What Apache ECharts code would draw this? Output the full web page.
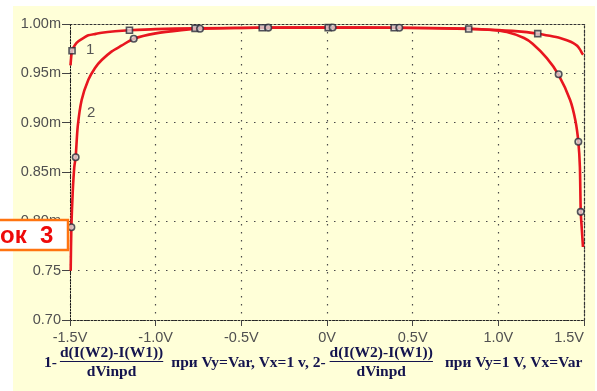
<!DOCTYPE html>
<html><head><meta charset="utf-8">
<script src="https://cdn.jsdelivr.net/npm/echarts@6/dist/echarts.min.js"></script>
<style>html,body{margin:0;padding:0;background:#fff}#c{width:597px;height:391px}</style>
</head><body><div id="c"></div>
<script>
// ---- data ----
const xTickLabels = ["-1.5V","-1.0V","-0.5V","0V","0.5V","1.0V","1.5V"];
const yTickLabels = ["0.70","0.75","0.80m","0.85m","0.90m","0.95m","1.00m"];

// curve 1: Vy = Var, Vx = 1 V
const curve1V = [-1.497,-1.488,-1.47,-1.451,-1.42,-1.393,-1.35,-1.315,-1.237,-1.153,-1.0,-0.77,-0.4,0.0,0.4,0.827,1.0,1.15,1.23,1.30,1.36,1.40,1.438,1.46,1.477,1.488,1.495];
const curve1G = [0.958,0.9729,0.979,0.9825,0.986,0.9885,0.990,0.9912,0.9926,0.9936,0.9948,0.9956,0.9962,0.9964,0.9962,0.995,0.9938,0.992,0.9902,0.988,0.9858,0.9835,0.9807,0.978,0.974,0.9705,0.969];
const marks1V = [-1.488,-1.153,-0.770,-0.378,0.007,0.392,0.827,1.230];
const marks1G = [0.9729,0.9936,0.9956,0.9962,0.9963,0.9962,0.995,0.9902];

// curve 2: Vy = 1 V, Vx = Var
const curve2V = [-1.496,-1.492,-1.484,-1.475,-1.467,-1.455,-1.432,-1.393,-1.354,-1.315,-1.256,-1.2,-1.128,-1.0,-0.85,-0.741,-0.5,-0.343,0.033,0.422,0.8,0.95,1.05,1.15,1.2,1.283,1.35,1.419,1.45,1.467,1.476,1.481,1.488,1.494];
const curve2G = [0.750,0.794,0.830,0.855,0.865,0.896,0.923,0.9434,0.9555,0.9635,0.9723,0.978,0.9851,0.9905,0.9938,0.9952,0.996,0.9963,0.9964,0.9962,0.9955,0.9942,0.9918,0.9858,0.980,0.9655,0.949,0.923,0.902,0.8806,0.855,0.8096,0.79,0.774];
const marks2V = [-1.492,-1.467,-1.128,-0.741,-0.343,0.033,0.422,1.352,1.467,1.481];
const marks2G = [0.794,0.865,0.9851,0.9952,0.9963,0.9964,0.9962,0.9491,0.8806,0.8096];

const zip = (a, b) => a.map((v, i) => [v, b[i]]);

// ---- chart ----
const chart = echarts.init(document.getElementById('c'), null, {renderer: 'canvas'});
const red = '#e8161f';
const labelFont = '"Liberation Sans", Arial, sans-serif';
const gridDots = {color: '#4a4a4a', width: 1.2, type: [1.5, 6.5]};

const ctx = document.createElement('canvas').getContext('2d');
const fFont = 'bold 15.5px "Liberation Serif", "Times New Roman", serif';
function tw(t) { ctx.font = fFont; return ctx.measureText(t).width; }

const num = 'd(I(W2)-I(W1))', den = 'dVinpd';
const t1 = '1-', t2 = 'при Vy=Var, Vx=1 v, 2-', t3 = 'при Vy=1 V, Vx=Var';
const fracW = Math.max(tw(num), tw(den));
const rowY = 363, numY = 353, barY = 361.5, denY = 372;
const navy = '#14144e';
let x = 44;
const formula = [];
function addText(t, cx, cy, align) {
  formula.push({type: 'text', x: cx, y: cy, z: 50, style: {text: t, font: fFont, fill: navy, align: align, verticalAlign: 'middle'}});
}
addText(t1, x, rowY, 'left'); x += tw(t1) + 3;
function addFrac() {
  addText(num, x + fracW / 2, numY, 'center');
  addText(den, x + fracW / 2, denY, 'center');
  formula.push({type: 'line', z: 50, shape: {x1: x, y1: barY, x2: x + fracW, y2: barY}, style: {stroke: navy, lineWidth: 1.2}});
  x += fracW;
}
addFrac(); x += 8;
addText(t2, x, rowY, 'left'); x += tw(t2) + 4;
addFrac(); x += 12;
addText(t3, x, rowY, 'left');

const option = {
  animation: false,
  backgroundColor: 'transparent',
  grid: {left: 70, right: 13, top: 24, bottom: 71},
  xAxis: [{
    type: 'value', min: -1.5, max: 1.5, interval: 0.5,
    axisLine: {show: true, onZero: false, lineStyle: {color: '#222', width: 1, type: [2, 1.5]}},
    axisTick: {show: true, length: 6, lineStyle: {color: '#444'}},
    axisLabel: {
      margin: 10, color: '#505050', fontSize: 14.5, fontFamily: labelFont, alignMaxLabel: 'right',
      formatter: (v) => xTickLabels[Math.round((v + 1.5) / 0.5)]
    },
    splitLine: {show: true, lineStyle: gridDots}
  }, {
    type: 'value', position: 'top', min: -1.5, max: 1.5,
    axisLine: {show: true, onZero: false, lineStyle: {color: '#333', width: 1.2, type: [2, 2]}},
    axisTick: {show: false}, axisLabel: {show: false}, splitLine: {show: false}
  }],
  yAxis: [{
    type: 'value', min: 0.70, max: 1.00, interval: 0.05,
    axisLine: {show: true, onZero: false, lineStyle: {color: '#111', width: 1, type: [1.5, 1.5]}},
    axisTick: {show: true, length: 8, lineStyle: {color: '#444'}},
    axisLabel: {
      margin: 9, color: '#505050', fontSize: 14.5, fontFamily: labelFont,
      formatter: (v) => yTickLabels[Math.round((v - 0.70) / 0.05)]
    },
    splitLine: {show: true, lineStyle: gridDots}
  }, {
    type: 'value', position: 'right', min: 0.70, max: 1.00,
    axisLine: {show: true, onZero: false, lineStyle: {color: '#333', width: 1.2, type: [2, 2]}},
    axisTick: {show: false}, axisLabel: {show: false}, splitLine: {show: false}
  }],
  series: [
    {type: 'line', data: zip(curve1V, curve1G), smooth: 0.25, showSymbol: false, clip: false,
      lineStyle: {color: red, width: 2.6}, z: 3},
    {type: 'line', data: zip(curve2V, curve2G), smooth: 0.25, showSymbol: false, clip: false,
      lineStyle: {color: red, width: 2.6}, z: 3},
    {type: 'scatter', data: zip(marks1V, marks1G), symbol: 'rect', symbolSize: 6,
      itemStyle: {color: '#d8d8d8', borderColor: '#2a2a3a', borderWidth: 1.6}, z: 5},
    {type: 'scatter', data: zip(marks2V, marks2G), symbol: 'circle', symbolSize: 6.5,
      itemStyle: {color: '#d8d8d8', borderColor: '#2a2a3a', borderWidth: 1.6}, z: 5}
  ],
  graphic: [
    {type: 'rect', z: -100, silent: true, shape: {x: 13, y: 6, width: 582, height: 385}, style: {fill: '#ffffd8'}},
    {type: 'text', z: 40, x: 86, y: 50, style: {text: '1', font: '15px ' + labelFont, fill: '#555', verticalAlign: 'middle'}},
    {type: 'text', z: 40, x: 87, y: 113, style: {text: '2', font: '15px ' + labelFont, fill: '#555', verticalAlign: 'middle'}},
    {type: 'rect', z: 60, shape: {x: -10, y: 220, width: 78, height: 30}, style: {fill: '#ffffff', stroke: '#ff7410', lineWidth: 2.5}},
    {type: 'text', z: 61, x: 0, y: 236, style: {text: 'ок  3', font: 'bold 24px "Liberation Sans", Arial, sans-serif', fill: '#ee0a0a', verticalAlign: 'middle'}}
  ].concat(formula)
};
chart.setOption(option);
</script>
</body></html>
